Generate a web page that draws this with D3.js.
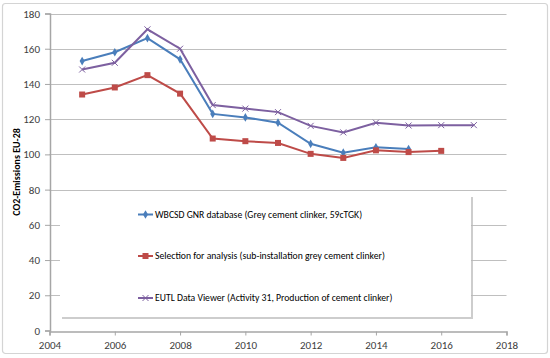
<!DOCTYPE html>
<html>
<head>
<meta charset="utf-8">
<script src="https://cdn.jsdelivr.net/npm/d3@7"></script>
<style>
  body { margin: 0; background: #fff; }
  text { font-family: Carlito, Lato, "Liberation Sans", sans-serif; }
</style>
</head>
<body>
<script>
'use strict'

const years = [2005, 2006, 2007, 2008, 2009, 2010, 2011, 2012, 2013, 2014, 2015, 2016, 2017];
const wbcsd = [153, 158, 166, 154, 123, 121, 118, 106, 101, 104, 103];
const selection = [134, 138, 145, 134.5, 109, 107.5, 106.5, 100.3, 98, 102.3, 101.3, 102];
const eutl = [148.2, 152, 171, 160, 128, 126, 124, 116.2, 112.5, 118, 116.4, 116.6, 116.6];
const xTicks = [2004, 2006, 2008, 2010, 2012, 2014, 2016, 2018];
const yTicks = [0, 20, 40, 60, 80, 100, 120, 140, 160, 180];
const seriesNames = [
	"WBCSD GNR database (Grey cement clinker, 59cTGK)",
	"Selection for analysis (sub-installation grey cement clinker)",
	"EUTL Data Viewer (Activity 31, Production of cement clinker)"
];

const w = 550;
const h = 358;

const series = [
	{ name: seriesNames[0], values: wbcsd, color: "#4a7ebb", marker: "diamond" },
	{ name: seriesNames[1], values: selection, color: "#be4b48", marker: "square" },
	{ name: seriesNames[2], values: eutl, color: "#7d60a0", marker: "cross" }
];

const svg = d3.select("body")
	.append("svg")
	.attr("width", w)
	.attr("height", h);

// outer frame
svg.append("rect")
	.attr("x", 2.5).attr("y", 3.5)
	.attr("width", 545).attr("height", 350)
	.attr("rx", 3)
	.attr("fill", "#fff")
	.attr("stroke", "#d4d4d4")
	.attr("stroke-width", 1.2);

const xScale = d3.scaleLinear()
	.domain([2004, 2018])
	.range([49.5, 506.5]);

const yScale = d3.scaleLinear()
	.domain([0, 180])
	.range([330.5, 13.5]);

// gridlines
svg.append("g")
	.selectAll("line")
	.data(yTicks.filter(d => d > 0))
	.enter()
	.append("line")
	.attr("x1", xScale(2004))
	.attr("x2", xScale(2018))
	.attr("y1", d => Math.round(yScale(d)) + 0.5)
	.attr("y2", d => Math.round(yScale(d)) + 0.5)
	.attr("stroke", "#bfbfbf")
	.attr("stroke-width", 1);

const xAxis = d3.axisBottom(xScale)
	.tickValues(xTicks)
	.tickFormat(d3.format("d"))
	.tickSizeOuter(0)
	.tickSize(4)
	.tickPadding(6);

const yAxis = d3.axisLeft(yScale)
	.tickValues(yTicks)
	.tickSizeOuter(0)
	.tickSize(5)
	.tickPadding(5);

const gx = svg.append("g")
	.attr("id", "x-axis")
	.attr("transform", "translate(0," + (Math.round(yScale(0)) + 0.5) + ")")
	.call(xAxis);

const gy = svg.append("g")
	.attr("id", "y-axis")
	.attr("transform", "translate(" + Math.round(xScale(2004)) + ",0)")
	.call(yAxis);

[gx, gy].forEach(g => {
	g.select(".domain").attr("stroke", "#a6a6a6").attr("stroke-width", 1.5);
	g.selectAll(".tick line").attr("stroke", "#a6a6a6");
	g.selectAll(".tick text")
		.attr("fill", "#404040")
		.style("font-size", "11px")
		.style("font-family", "Carlito, Lato, 'Liberation Sans', sans-serif");
});

svg.append("text")
	.attr("transform", "translate(20,172) rotate(-90)")
	.attr("text-anchor", "middle")
	.attr("font-weight", "bold")
	.attr("font-size", "10px")
	.attr("fill", "#000")
	.text("CO2-Emissions EU-28");

// lines
const line = d3.line()
	.x((d, i) => xScale(years[i]))
	.y(d => yScale(d));

function drawMarker(g, type, color, x, y) {
	if (type === "diamond") {
		g.append("path")
			.attr("d", d3.symbol(d3.symbolDiamond, 22)())
			.attr("transform", "translate(" + x + "," + y + ")")
			.attr("fill", color);
	} else if (type === "square") {
		g.append("rect")
			.attr("x", x - 3).attr("y", y - 3)
			.attr("width", 6).attr("height", 6)
			.attr("fill", color);
	} else {
		g.append("path")
			.attr("d", "M-3,-3L3,3M-3,3L3,-3")
			.attr("transform", "translate(" + x + "," + y + ")")
			.attr("stroke", color)
			.attr("stroke-width", 1);
	}
}

series.forEach(s => {
	const g = svg.append("g");
	g.append("path")
		.datum(s.values)
		.attr("d", line)
		.attr("fill", "none")
		.attr("stroke", s.color)
		.attr("stroke-width", 2);
	s.values.forEach((v, i) => drawMarker(g, s.marker, s.color, xScale(years[i]), yScale(v)));
});

// legend box with shadow
const lg = svg.append("g");
lg.append("rect")
	.attr("x", 62).attr("y", 197)
	.attr("width", 411).attr("height", 122)
	.attr("fill", "#b8b8b8")
	.attr("opacity", 0.7);
lg.append("rect")
	.attr("x", 60).attr("y", 195)
	.attr("width", 411).attr("height", 122)
	.attr("fill", "#fff");

const legendY = [214.5, 256, 298];
series.forEach((s, i) => {
	lg.append("line")
		.attr("x1", 138).attr("x2", 153)
		.attr("y1", legendY[i]).attr("y2", legendY[i])
		.attr("stroke", s.color)
		.attr("stroke-width", 2);
	drawMarker(lg, s.marker, s.color, 145.5, legendY[i]);
	lg.append("text")
		.attr("x", 155)
		.attr("y", legendY[i])
		.attr("dy", "0.35em")
		.attr("font-size", "9.7px")
		.attr("fill", "#000")
		.text(s.name);
});
</script>
</body>
</html>
